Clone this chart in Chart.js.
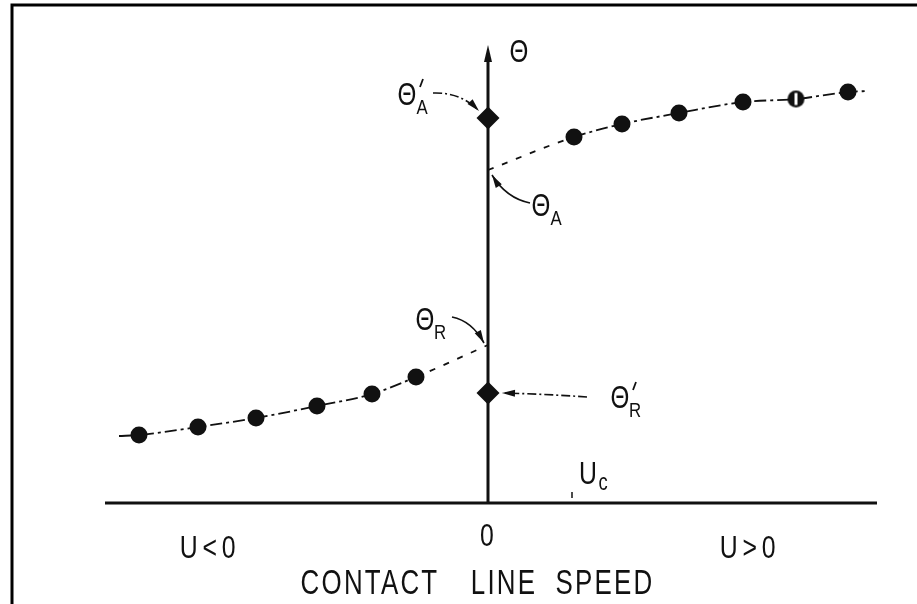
<!DOCTYPE html>
<html>
<head>
<meta charset="utf-8">
<script src="https://cdn.jsdelivr.net/npm/chart.js@4.4.0/dist/chart.umd.min.js"></script>
<style>
html,body{margin:0;padding:0;background:#fff;}
#wrap{width:917px;height:604px;position:relative;}
</style>
</head>
<body>
<div id="wrap"><canvas id="chart"></canvas></div>
<script>
// Contact angle vs contact line speed (arbitrary units)
const advU=[0.86,1.34,1.91,2.55,3.08,3.60];
const advTheta=[3.66,3.79,3.90,4.01,4.04,4.11];
const recU=[-3.49,-2.90,-2.32,-1.71,-1.16,-0.72];
const recTheta=[0.68,0.76,0.85,0.97,1.09,1.26];
// static angles sitting on U=0 : theta'_A , theta'_R
const staticTheta=[3.85,1.10];
// extrapolated from the moving-line data
const thetaA=3.33, thetaR=1.58;
const advTail=[3.80,4.12];
const recTail=[-3.69,0.67];
const uc=0.84;
const speedLabels=['U<0','0','U>0'];
const speedLabelAt=[-2.78,-0.01,2.62];
const titleWords=['CONTACT','LINE','SPEED'];
const titleWordAt=[-1.18,0.16,1.17];
const xRange=[-3.83,3.89], yRange=[0,4.58];

const FONT='"Liberation Sans",Arial,sans-serif';
const INK='#111';

const advFit=[{x:0,y:thetaA}].concat(advU.map((u,i)=>({x:u,y:advTheta[i]})),[{x:advTail[0],y:advTail[1]}]);
const recFit=[{x:recTail[0],y:recTail[1]}].concat(recU.map((u,i)=>({x:u,y:recTheta[i]})),[{x:0,y:thetaR}]);

// dot with a white slit, used for one of the advancing points
function slitDot(r){
  const s=Math.ceil(r*2+2), c=document.createElement('canvas');
  c.width=s;c.height=s; const g=c.getContext('2d');
  g.fillStyle=INK; g.beginPath(); g.arc(s/2,s/2,r,0,Math.PI*2); g.fill();
  g.fillStyle='#fff'; g.fillRect(s/2-1.5,s/2-6,3,12);
  return c;
}
const advStyles=advU.map((u,i)=>i===4?slitDot(8.5):'circle');

// narrow lettering: draw text squeezed horizontally around (x,y)
function text(ctx,t,x,y,size,sx,spacing){
  ctx.save();
  ctx.translate(x,y); ctx.scale(sx,1);
  ctx.font=size+'px '+FONT; ctx.textAlign='center'; ctx.textBaseline='middle';
  if('letterSpacing' in ctx) ctx.letterSpacing=(spacing||0)+'px';
  ctx.fillText(t,0,0);
  ctx.restore();
}
function arrowHead(ctx,fx,fy,tx,ty,len,w){
  const a=Math.atan2(ty-fy,tx-fx);
  ctx.save(); ctx.setLineDash([]);
  ctx.beginPath();
  ctx.moveTo(tx,ty);
  ctx.lineTo(tx-len*Math.cos(a)+w*Math.sin(a),ty-len*Math.sin(a)-w*Math.cos(a));
  ctx.lineTo(tx-len*Math.cos(a)-w*Math.sin(a),ty-len*Math.sin(a)+w*Math.cos(a));
  ctx.closePath(); ctx.fill(); ctx.restore();
}
// curved pointer: offsets are relative to the mark (bx,by)
function pointer(ctx,bx,by,s,c,t,dash){
  ctx.save(); ctx.lineWidth=1.6; ctx.setLineDash(dash);
  ctx.beginPath(); ctx.moveTo(bx+s[0],by+s[1]);
  ctx.quadraticCurveTo(bx+c[0],by+c[1],bx+t[0],by+t[1]); ctx.stroke();
  ctx.restore();
  arrowHead(ctx,bx+c[0],by+c[1],bx+t[0],by+t[1],13,3.5);
}
function thetaLabel(ctx,x,y,sub,prime){
  text(ctx,'\u0398',x,y,31,0.78);
  if(prime){ ctx.save(); ctx.lineWidth=1.8; ctx.beginPath(); ctx.moveTo(x+13,y-9); ctx.lineTo(x+16,y-17); ctx.stroke(); ctx.restore(); }
  if(sub) text(ctx,sub,x+15,y+12,21,0.8);
}

const drawing={
  id:'drawing',
  beforeDraw(chart){
    const ctx=chart.ctx;
    ctx.save();
    ctx.fillStyle='#fff'; ctx.fillRect(0,0,chart.width,chart.height);
    // frame (top and left edges)
    ctx.strokeStyle='#000'; ctx.lineWidth=3;
    ctx.beginPath(); ctx.moveTo(12,chart.height); ctx.lineTo(12,5); ctx.lineTo(chart.width,5); ctx.stroke();
    ctx.restore();
  },
  beforeDatasetsDraw(chart){
    const ctx=chart.ctx, X=chart.scales.x, Y=chart.scales.y;
    const x0=X.getPixelForValue(0), y0=Y.getPixelForValue(0);
    ctx.save(); ctx.strokeStyle=INK; ctx.fillStyle=INK; ctx.lineWidth=3;
    // speed axis
    ctx.beginPath(); ctx.moveTo(X.getPixelForValue(xRange[0]),y0); ctx.lineTo(X.getPixelForValue(xRange[1]),y0); ctx.stroke();
    // angle axis with arrow
    const yt=Y.getPixelForValue(yRange[1]);
    ctx.beginPath(); ctx.moveTo(x0,y0); ctx.lineTo(x0,yt+10); ctx.stroke();
    ctx.beginPath(); ctx.moveTo(x0,yt); ctx.lineTo(x0-4,yt+17); ctx.lineTo(x0+4,yt+17); ctx.closePath(); ctx.fill();
    // U_c tick
    const xc=X.getPixelForValue(uc);
    ctx.lineWidth=1.5; ctx.beginPath(); ctx.moveTo(xc,y0-11); ctx.lineTo(xc,y0-5); ctx.stroke();
    ctx.restore();
  },
  afterDatasetsDraw(chart){
    const ctx=chart.ctx, X=chart.scales.x, Y=chart.scales.y;
    const x0=X.getPixelForValue(0), y0=Y.getPixelForValue(0);
    ctx.save(); ctx.strokeStyle=INK; ctx.fillStyle=INK;
    const dA=Y.getPixelForValue(staticTheta[0]), dR=Y.getPixelForValue(staticTheta[1]);
    const pA=Y.getPixelForValue(thetaA), pR=Y.getPixelForValue(thetaR);
    const dashDot=[9,3,2,3];

    // axis symbol
    thetaLabel(ctx,x0+31,Y.getPixelForValue(yRange[1])+8,null,false);
    // theta'_A
    thetaLabel(ctx,x0-81,dA-22,'A',true);
    pointer(ctx,x0,dA,[-55,-25],[-27,-26],[-9,-7],dashDot);
    // theta_A
    thetaLabel(ctx,x0+53,pA+37,'A',false);
    pointer(ctx,x0,pA,[42,33],[18,28],[4,5],[]);
    // theta_R
    thetaLabel(ctx,x0-63,pR-24,'R',false);
    pointer(ctx,x0,pR,[-36,-28],[-16,-24],[-4,-2],[]);
    // theta'_R
    thetaLabel(ctx,x0+132,dR+6,'R',true);
    pointer(ctx,x0,dR,[99,4],[57,1],[14,0],dashDot);

    // U_c
    const xc=X.getPixelForValue(uc);
    text(ctx,'U',xc+16,y0-28,31,0.8);
    text(ctx,'c',xc+31,y0-19,23,0.8);

    // speed axis labels
    speedLabels.forEach((t,i)=>{
      text(ctx,t,X.getPixelForValue(speedLabelAt[i]),y0+(t==='0'?34:46),31,0.8,t==='0'?0:6);
    });
    titleWords.forEach((w,i)=>{
      text(ctx,w,X.getPixelForValue(titleWordAt[i]),y0+81,35,0.74,3);
    });
    ctx.restore();
  }
};

const chart=new Chart(document.getElementById('chart'),{
  type:'scatter',
  data:{
    datasets:[
      {label:'static', data:staticTheta.map(t=>({x:0,y:t})), pointStyle:'rectRot', pointRadius:11.5,
        backgroundColor:INK, borderColor:INK, borderWidth:0, order:0},
      {label:'advancing', data:advU.map((u,i)=>({x:u,y:advTheta[i]})), pointStyle:advStyles, pointRadius:8.5,
        backgroundColor:INK, borderColor:INK, borderWidth:0, order:0},
      {label:'receding', data:recU.map((u,i)=>({x:u,y:recTheta[i]})), pointRadius:8.5,
        backgroundColor:INK, borderColor:INK, borderWidth:0, order:0},
      {label:'advancing fit', data:advFit, showLine:true, pointRadius:0, borderColor:INK, borderWidth:1.8,
        cubicInterpolationMode:'monotone', order:1,
        segment:{borderDash:c=>c.p0DataIndex===0?[6,9]:[12,4,3,4]}},
      {label:'receding fit', data:recFit, showLine:true, pointRadius:0, borderColor:INK, borderWidth:1.8,
        cubicInterpolationMode:'monotone', order:1,
        segment:{borderDash:c=>c.p1DataIndex===recFit.length-1?[6,9]:[12,4,3,4]}}
    ]
  },
  options:{
    responsive:true, maintainAspectRatio:false, animation:false,
    layout:{padding:{left:105,right:40,top:45,bottom:101}},
    plugins:{legend:{display:false},tooltip:{enabled:false}},
    scales:{
      x:{type:'linear',min:xRange[0],max:xRange[1],display:false},
      y:{type:'linear',min:yRange[0],max:yRange[1],display:false}
    }
  },
  plugins:[drawing]
});
</script>
</body>
</html>
